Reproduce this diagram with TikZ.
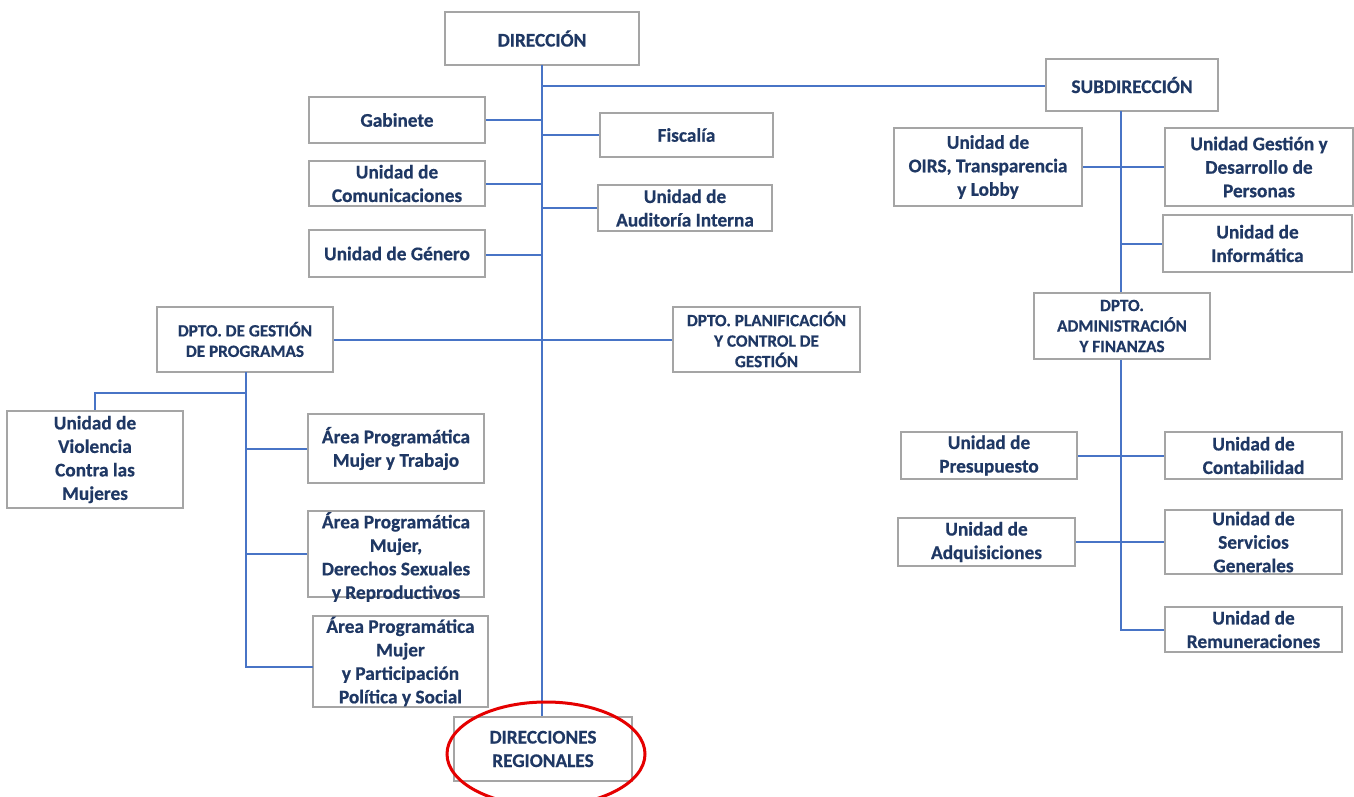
\documentclass[tikz,border=0pt]{standalone}
\usepackage{fontspec}
\setmainfont{Carlito}[BoldFeatures={FakeBold=0.6}]
\definecolor{navy}{RGB}{31,56,100}
\definecolor{lineblue}{RGB}{72,116,198}
\definecolor{boxgray}{RGB}{165,165,165}
\tikzset{
  box/.style={draw=boxgray, line width=1.6pt, fill=white, inner sep=0pt, rectangle},
  txt/.style={text=navy, align=center, inner sep=0pt, font=\bfseries\fontsize{19.3}{23.5}\selectfont},
  capt/.style={txt, font=\bfseries\fontsize{17.2}{20.5}\selectfont},
  capb/.style={txt, font=\bfseries\fontsize{19.3}{23.5}\selectfont},
  link/.style={draw=lineblue, line width=2pt},
}
\newcommand\bx[7][txt]{%
  \node[box, minimum width={#5-#3}, minimum height={#6-#4}] (#2) at ({(#3+#5)/2},{(#4+#6)/2}) {};
  \node[#1] (#2t) at (#2) {#7};}
\begin{document}
\begin{tikzpicture}[x=1pt,y=-1pt]
\useasboundingbox (0,0) rectangle (1354,797);
\clip (0,0) rectangle (1354,797);
\fill[white] (0,0) rectangle (1354,797);
% boxes
\bx[capb]{dir}{445}{12}{639}{65}{DIRECCIÓN}
\bx[capb]{sub}{1046}{59}{1218}{111}{SUBDIRECCIÓN}
\bx{gab}{309}{97}{485}{143}{Gabinete}
\bx{fis}{600}{113}{773}{157}{Fiscalía}
\bx{com}{309}{161}{485}{206}{Unidad de\\Comunicaciones}
\bx{aud}{598}{185}{772}{231}{Unidad de\\Auditoría Interna}
\bx{gen}{309}{230}{485}{277}{Unidad de Género}
\bx[capt]{gp}{157}{307}{333}{372}{DPTO. DE GESTIÓN\\DE PROGRAMAS}
\bx[capt]{pl}{673}{307}{860}{372}{DPTO. PLANIFICACIÓN\\Y CONTROL DE\\GESTIÓN}
\bx{vio}{7}{411}{183}{508}{Unidad de\\Violencia\\Contra las\\Mujeres}
\bx{mt}{308}{414}{484}{483}{Área Programática\\Mujer y Trabajo}
\node[box, minimum width=176, minimum height=86] (rep) at (396,554) {};
\node[txt] (rept) at (396,557) {Área Programática\\Mujer,\\Derechos Sexuales\\y Reproductivos};
\bx{soc}{313}{616}{488}{707}{Área Programática\\Mujer\\y Participación\\Política y Social}
\bx[capb]{dr}{454}{717}{632}{781}{DIRECCIONES\\REGIONALES}
\bx{oirs}{894}{128}{1082}{206}{Unidad de\\OIRS, Transparencia\\y Lobby}
\bx{gdp}{1165}{128}{1353}{206}{Unidad Gestión y\\Desarrollo de\\Personas}
\bx{inf}{1163}{215}{1352}{272}{Unidad de\\Informática}
\bx[capt]{adm}{1034}{293}{1210}{359}{DPTO.\\ADMINISTRACIÓN\\Y FINANZAS}
\bx{pre}{901}{432}{1077}{479}{Unidad de\\Presupuesto}
\bx{con}{1165}{432}{1342}{479}{Unidad de\\Contabilidad}
\bx{adq}{898}{518}{1075}{566}{Unidad de\\Adquisiciones}
\bx{ser}{1165}{510}{1342}{574}{Unidad de\\Servicios\\Generales}
\bx{rem}{1165}{607}{1342}{652}{Unidad de\\Remuneraciones}
% connectors
\coordinate (trk) at (542,65);
\draw[link] (trk) -- (trk |- dr.north);
\draw[link] (trk |- 0,86) -- (sub.west |- 0,86);
\draw[link] (gab.east) -- (gab.east -| trk);
\draw[link] (fis.west) -- (fis.west -| trk);
\draw[link] (com.east) -- (com.east -| trk);
\draw[link] (aud.west) -- (aud.west -| trk);
\draw[link] ([yshift=-1pt]gen.east) -- ([yshift=-1pt]gen.east -| trk);
\draw[link] (gp.east) -- (pl.west);
\coordinate (gpj) at (246,372);
\coordinate (socj) at (313,667);
\draw[link] (gpj) -- (gpj |- socj) -- (socj);
\draw[link] (gpj |- 0,393) -| (vio.north);
\draw[link] (mt.west) -- (mt.west -| gpj);
\draw[link] (rep.west) -- (rep.west -| gpj);
\coordinate (sj) at (1121,111);
\draw[link] (sj) -- (sj |- adm.north);
\draw[link] (oirs.east) -- (gdp.west);
\draw[link] (inf.west) -- (inf.west -| sj);
\draw[link] (sj |- adm.south) -- (sj |- rem.west) -- (rem.west);
\draw[link] (pre.east) -- (con.west);
\draw[link] (adq.east) -- (ser.west);
% red ellipse
\draw[red!90!black, line width=3pt] (546,754) ellipse [x radius=99, y radius=52];
\end{tikzpicture}
\end{document}
